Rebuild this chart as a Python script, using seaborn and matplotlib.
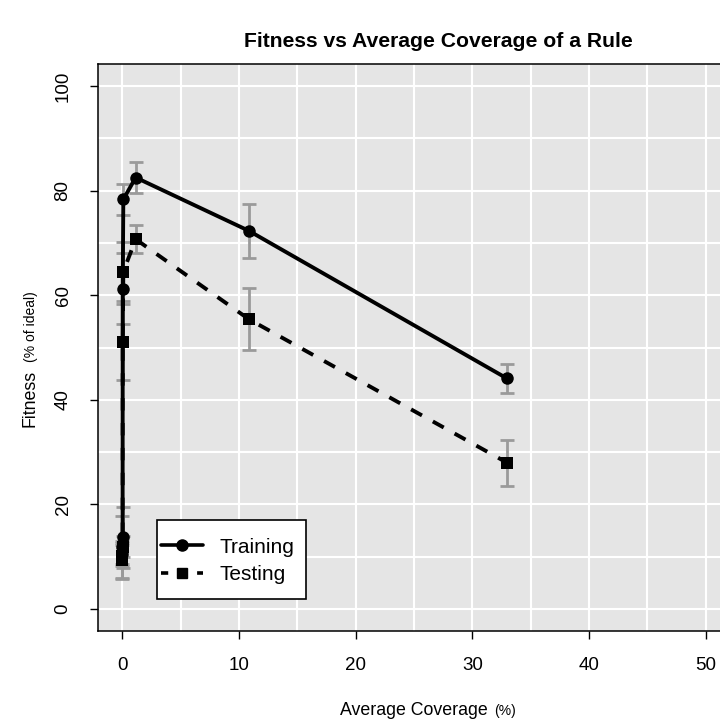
import numpy as np
import pandas as pd
import seaborn as sns
import matplotlib.pyplot as plt
from matplotlib.lines import Line2D
from matplotlib.patches import Rectangle

# average coverage of a rule (%) and fitness (% of ideal)
coverage = [0.0, 0.0, 0.01, 0.02, 0.07, 1.13, 10.84, 32.95]
train_fit = [10.6, 11.9, 13.7, 61.2, 78.3, 82.5, 72.3, 44.1]
train_err = [2.0, 5.9, 5.9, 6.8, 3.0, 2.9, 5.1, 2.8]
test_fit = [9.4, 10.2, 11.9, 51.1, 64.5, 70.7, 55.4, 28.0]
test_err = [3.7, 2.0, 2.0, 7.3, 5.7, 2.7, 5.9, 4.4]

series = ["Training", "Testing"]

df = pd.DataFrame({
    "coverage": coverage * 2,
    "fitness": train_fit + test_fit,
    "err": train_err + test_err,
    "series": [series[0]] * len(coverage) + [series[1]] * len(coverage),
})

sns.set_theme(style="darkgrid")
plt.rcParams["font.family"] = ["Liberation Sans", "DejaVu Sans"]
plt.rcParams["text.color"] = "black"
plt.rcParams["xtick.color"] = "black"
plt.rcParams["ytick.color"] = "black"

fig = plt.figure(figsize=(7.2, 7.22), dpi=100)
# plot region runs off the right edge of the picture, as in the original
ax = fig.add_axes([98 / 720, 1 - 631 / 722, 680 / 720, 567 / 722])
ax.set_facecolor("#e5e5e5")

# grey error bars behind the lines
ax.errorbar(df["coverage"], df["fitness"], yerr=df["err"], fmt="none",
            ecolor="#9a9a9a", elinewidth=2, capsize=5, capthick=2, zorder=2)

sns.lineplot(data=df, x="coverage", y="fitness", hue="series", style="series",
             sort=False, estimator=None, errorbar=None,
             palette={"Training": "black", "Testing": "black"},
             markers={"Training": "o", "Testing": "s"},
             dashes={"Training": "", "Testing": (3.2, 3.2)},
             markersize=9, markeredgewidth=0, linewidth=2.8,
             legend=False, ax=ax, zorder=3)

ax.set_xlim(-2.1, 56.2)
ax.set_ylim(-4.2, 104.2)
ax.set_xticks(np.arange(0, 51, 10))
ax.set_xticks(np.arange(5, 56, 10), minor=True)
ax.set_yticks(np.arange(0, 101, 20))
ax.set_yticks(np.arange(10, 100, 20), minor=True)
ax.grid(which="both", color="white", linewidth=1.5)
ax.set_axisbelow(True)

ax.tick_params(axis="both", which="major", direction="out", length=6,
               width=1, color="black", labelcolor="black", labelsize=13.5,
               pad=13, bottom=True, left=True)
ax.tick_params(axis="both", which="minor", length=0)
for lab in ax.get_yticklabels():
    lab.set_rotation(90)
    lab.set_va("center")

for s in ax.spines.values():
    s.set_visible(True)
    s.set_color("black")
    s.set_linewidth(1.1)

ax.set_xlabel("")
ax.set_ylabel("")

# legend: R style box with uneven padding, so the frame is drawn separately
ax.add_patch(Rectangle((157 / 720, 1 - 599 / 722), 149 / 720, 79 / 722,
                       transform=fig.transFigure, facecolor="white",
                       edgecolor="black", linewidth=1.2, clip_on=False,
                       zorder=4))
handles = [
    Line2D([], [], color="black", lw=2.6, marker="o", markersize=8),
    Line2D([], [], color="black", lw=2.6, marker="s", markersize=7, dashes=(2.0, 3.0)),
]
leg = ax.legend(handles, series, loc="center left",
                bbox_to_anchor=(161 / 720, 1 - 561 / 722),
                bbox_transform=fig.transFigure, fontsize=15,
                frameon=False, handlelength=2.0,
                handletextpad=0.8, labelspacing=0.42, borderpad=0,
                borderaxespad=0)
leg.set_zorder(5)

# title and axis labels
fig.text(438 / 720, 1 - 47 / 722, "Fitness vs Average Coverage of a Rule",
         ha="center", va="baseline", fontsize=15.2, fontweight="bold")
fig.text(340 / 720, 1 - 715 / 722, "Average Coverage", ha="left",
         va="baseline", fontsize=12.8)
fig.text(494 / 720, 1 - 715 / 722, "(%)", ha="left", va="baseline",
         fontsize=10)
fig.text(35 / 720, 1 - 427 / 722, "Fitness", rotation=90,
         rotation_mode="anchor", ha="left", va="baseline", fontsize=12.8)
fig.text(35 / 720, 1 - 362 / 722, "(% of ideal)", rotation=90,
         rotation_mode="anchor", ha="left", va="baseline", fontsize=10)

fig.savefig("out.png", dpi=100)
